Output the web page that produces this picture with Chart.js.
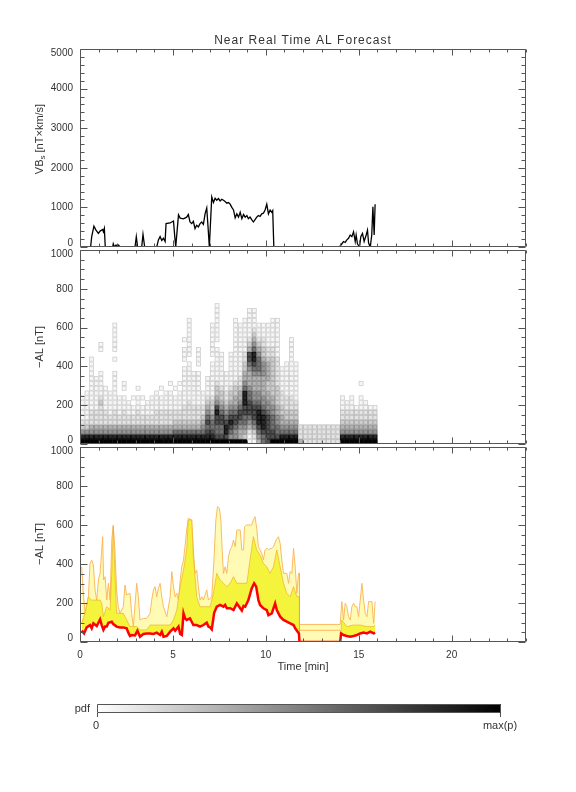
<!DOCTYPE html>
<html>
<head>
<meta charset="utf-8">
<title>Near Real Time AL Forecast</title>
<script src="https://cdn.jsdelivr.net/npm/chart.js@4.4.0/dist/chart.umd.min.js"></script>
<style>
  body { margin: 0; background: #fff; }
  #wrap { position: relative; width: 576px; height: 792px; }
  canvas { position: absolute; left: 0; top: 0; }
</style>
</head>
<body>
<div id="wrap">
  <canvas id="vbsChart" width="576" height="792"></canvas>
  <canvas id="pdfChart" width="576" height="792"></canvas>
  <canvas id="alChart" width="576" height="792"></canvas>
</div>
<script>
// ---------------- data ----------------
// top panel: VBs [nT x km/s] against time [min]
const vbsTime = [0.09,0.57,0.63,0.75,0.86,0.99,1.08,1.22,1.26,1.31,1.36,1.76,1.79,1.85,1.94,2.01,2.08,2.15,
  2.96,3.03,3.1,3.32,3.39,3.48,4.13,4.22,4.31,4.4,4.49,4.58,4.63,4.85,5.03,5.1,5.15,5.3,5.39,5.57,5.74,5.83,
  5.92,6.01,6.1,6.19,6.28,6.37,6.46,6.55,6.64,6.73,6.82,6.89,6.96,7.09,7.18,7.27,7.36,7.45,7.54,7.63,7.72,
  7.81,7.9,7.99,8.08,8.17,8.26,8.35,8.44,8.53,8.62,8.71,8.8,8.89,8.98,9.06,9.15,9.24,9.33,9.42,9.51,9.6,
  9.69,9.78,9.87,9.96,10.05,10.14,10.23,10.32,10.37,10.43,13.96,14.09,14.18,14.27,14.36,14.45,14.54,14.63,
  14.72,14.81,14.86,14.93,15.04,15.11,15.2,15.29,15.4,15.47,15.53,15.62,15.7,15.76,15.83,15.88];
const vbsValue = [0,0,262,525,426,344,402,443,385,467,0,0,82,0,49,0,49,0,
  0,262,0,0,320,0,0,180,262,164,221,139,590,607,656,262,0,812,730,713,754,820,
  631,590,648,467,549,508,590,631,574,836,984,508,0,1263,1123,1230,1181,1222,1164,1205,1181,
  1148,1107,1123,1082,1000,935,738,836,754,877,713,820,754,795,713,754,689,631,689,754,795,
  771,836,853,935,1082,836,935,877,918,0,0,82,139,115,180,221,303,262,
  385,139,303,82,0,262,344,139,303,426,98,0,303,1017,303,1082];

// middle panel: pdf of -AL, one string per time column, one digit per 25 nT bin (0 = empty, 9 = max)
const pdfStep = 0.25;   // min per column
const pdfBin = 25;      // nT per row
const pdfColumns = [
  "9853211111", "98532111111", "985422211111111111", "98542221111111",
  "9854222232111110000110", "9854222111110", "98542211111", "9854222111111110010111111",
  "9854221111", "9854222111011", "985422111", "9854221101",
  "985422211101", "9854221101", "985422111", "9854221111",
  "98542221111", "985422211101", "98542221111", "9854222111101",
  "986432211101", "9864322111101", "9864322211111111011101", "98643222211111111011111111",
  "986432221111111", "98643222111111101111", "98654322111", "98767654321111",
  "9876654332111111101111111", "97667787543321111111011111111", "9766776543321111111", "978876543221111",
  "9567876543321111111", "95567765443321111111111111", "9445677654432211111111111", "93456677888654433221111111",
  "1124567776654445677432111111", "1235677765544456788654321111", "4567888765544456665432111", "6678887655444455543322111",
  "7777776554433444432211111", "97766655443333333322111111", "97665544333322222211111111", "9865443322211111",
  "98654332221111111", "9865433222111111111111", "98654332211111111", "4222",
  "2222", "2222", "2222", "2222", "2222", "2222", "2222", "2222",
  "9854322111", "985432211", "9854322111", "98543221",
  "9854322111001", "985432211", "98543221", "98543221"
];

// bottom panel: forecast -AL [nT]
const redTime = [0.09,0.22,0.36,0.54,0.63,0.72,0.9,0.99,1.08,1.17,1.26,1.35,1.44,1.53,1.71,1.79,1.97,2.15,2.33,
  2.51,2.6,2.69,2.78,2.96,3.09,3.23,3.41,3.59,3.77,3.95,4.13,4.31,4.4,4.49,4.67,4.85,5.03,5.12,5.3,5.39,5.48,
  5.57,5.65,5.74,5.92,6.01,6.1,6.28,6.46,6.64,6.82,6.91,7.0,7.09,7.22,7.36,7.54,7.72,7.81,7.9,8.08,8.26,8.35,
  8.44,8.62,8.71,8.8,8.89,9.06,9.24,9.37,9.48,9.6,9.69,9.87,10.05,10.14,10.32,10.5,10.59,10.77,10.95,11.13,
  11.31,11.49,11.58,11.71,11.78,11.81,14.0,14.05,14.18,14.36,14.54,14.72,14.9,15.08,15.26,15.44,15.62,15.8,15.88];
const redValue = [58,44,75,87,70,96,82,99,116,87,62,79,79,99,104,92,79,75,75,
  70,48,31,36,34,58,27,41,44,44,41,48,36,53,27,31,53,70,58,79,41,36,
  147,121,113,121,104,87,87,79,87,99,79,75,65,150,181,190,181,190,173,173,164,181,
  198,173,161,185,181,215,275,301,284,215,190,173,164,138,147,198,164,130,113,104,
  96,87,70,53,44,0,0,44,36,31,27,31,36,44,48,44,53,44,48];

const innerTime = [0.09,0.27,0.45,0.63,0.81,1.08,1.17,1.26,1.44,1.62,1.71,1.79,1.88,1.97,2.33,2.51,2.69,3.05,
  3.23,3.59,3.77,4.85,5.03,5.21,5.39,5.57,5.74,5.83,6.01,6.1,6.28,6.46,7.0,7.18,7.36,7.54,7.72,7.9,8.08,8.26,
  8.44,8.98,9.15,9.33,9.51,9.69,9.87,10.05,10.23,10.41,10.59,10.77,10.95,11.13,11.31,11.49,11.67,11.81,11.81,
  14.0,14.09,14.36,14.72,15.08,15.44,15.8,15.88];
const innerValue = [96,147,232,215,215,215,198,130,181,164,352,591,352,147,147,113,79,79,
  62,62,87,87,113,164,284,369,472,626,626,438,232,181,181,250,352,318,301,284,301,335,
  301,301,421,540,472,446,403,386,352,386,472,386,301,250,232,284,232,232,0,
  0,113,79,87,87,79,79,87];

const outerTime = [0.09,0.18,0.27,0.45,0.54,0.63,0.72,0.81,0.9,0.99,1.08,1.17,1.22,1.27,1.35,1.44,1.53,1.62,
  1.71,1.79,1.88,1.97,2.06,2.15,2.33,2.42,2.51,2.69,2.78,2.87,3.05,3.14,3.23,3.41,3.59,3.77,3.86,3.95,4.04,
  4.13,4.22,4.31,4.4,4.49,4.67,4.85,4.94,5.03,5.12,5.21,5.3,5.39,5.48,5.57,5.65,5.74,5.83,6.01,6.1,6.19,6.28,
  6.37,6.46,6.55,6.64,6.82,6.91,7.0,7.09,7.22,7.31,7.4,7.5,7.58,7.65,7.72,7.81,7.9,7.99,8.08,8.17,8.26,8.35,
  8.44,8.62,8.71,8.8,8.85,8.98,9.24,9.33,9.42,9.51,9.6,9.69,9.78,9.87,9.96,10.05,10.14,10.32,10.41,10.55,
  10.68,10.77,10.86,10.95,11.13,11.22,11.31,11.4,11.49,11.58,11.67,11.76,11.81,11.81,14.0,14.09,14.18,14.27,
  14.36,14.45,14.54,14.63,14.72,14.81,14.9,14.99,15.08,15.17,15.26,15.35,15.44,15.53,15.71,15.8,15.88];
const outerValue = [386,250,147,232,403,420,395,267,215,318,352,472,540,318,335,215,301,215,
  523,600,472,267,181,147,181,292,241,250,147,79,301,232,113,121,121,147,215,267,284,
  232,275,301,232,181,130,232,361,284,232,250,215,318,386,420,489,574,634,626,472,352,369,
  284,215,232,215,267,215,224,232,438,626,694,685,626,472,352,386,352,438,472,489,523,489,
  574,574,472,472,591,600,600,626,643,583,489,472,455,421,472,480,475,480,489,523,
  540,506,421,352,352,301,361,352,480,386,250,352,352,90,90,207,113,198,
  181,130,113,181,198,181,181,130,215,301,215,147,130,207,207,96,207];

// thin orange quantile line in the gap with no forecast
const gapTime = [11.81, 14.0];
const gapValue = [60, 60];

// ---------------- styling ----------------
const axisColor = '#555';
const textColor = '#333';
const fontFamily = '"Liberation Sans", Arial, sans-serif';
const xMajor = 5, xMinor = 1;

function pts(times, values) {
  return times.map((t, i) => ({ x: t, y: values[i] }));
}

// IDL-like box: inward ticks on all four sides, y labels kept inside the box height
function drawFrame(chart, yMinor, yMajor) {
  const { ctx, chartArea: a } = chart;
  const xs = chart.scales.x, ys = chart.scales.y;
  const L = Math.round(a.left) + 0.5, R = Math.round(a.right) - 0.5;
  const T = Math.round(a.top) + 0.5, B = Math.round(a.bottom) - 0.5;
  ctx.save();
  ctx.strokeStyle = axisColor;
  ctx.lineWidth = 1;
  ctx.beginPath();
  ctx.rect(L, T, R - L, B - T);
  for (let v = xs.min; v <= xs.max + 1e-9; v += xMinor) {
    const px = Math.round(xs.getPixelForValue(v)) + 0.5;
    const len = v % xMajor === 0 ? 6 : 3;
    ctx.moveTo(px, B); ctx.lineTo(px, B - len);
    ctx.moveTo(px, T); ctx.lineTo(px, T + len);
  }
  for (let v = ys.min; v <= ys.max + 1e-9; v += yMinor) {
    const py = Math.round(ys.getPixelForValue(v)) + 0.5;
    const len = v % yMajor === 0 ? 7 : 4;
    ctx.moveTo(L, py); ctx.lineTo(L + len, py);
    ctx.moveTo(R, py); ctx.lineTo(R - len, py);
  }
  ctx.stroke();

  ctx.fillStyle = textColor;
  ctx.font = '10px ' + fontFamily;
  ctx.textAlign = 'right';
  ctx.textBaseline = 'middle';
  ys.ticks.forEach(t => {
    const py = ys.getPixelForValue(t.value);
    const yy = Math.min(Math.max(py, a.top + 4), a.bottom - 4);
    ctx.fillText(String(t.value), a.left - 7, yy);
  });
  ctx.restore();
}

// rotated y label; parts with sub:true are drawn as subscript
function drawYLabel(ctx, cx, cy, parts) {
  ctx.save();
  ctx.translate(cx, cy);
  ctx.rotate(-Math.PI / 2);
  ctx.fillStyle = textColor;
  ctx.textBaseline = 'middle';
  ctx.textAlign = 'left';
  const big = '11px ' + fontFamily, small = '8px ' + fontFamily;
  let w = 0;
  parts.forEach(p => { ctx.font = p.sub ? small : big; w += ctx.measureText(p.text).width; });
  let x = -w / 2;
  parts.forEach(p => {
    ctx.font = p.sub ? small : big;
    ctx.fillText(p.text, x, p.sub ? 3 : 0);
    x += ctx.measureText(p.text).width;
  });
  ctx.restore();
}

function yScale(min, max, step) {
  return {
    type: 'linear', min: min, max: max,
    grid: { display: false, drawTicks: false },
    border: { display: false },
    ticks: { stepSize: step, display: false },
    afterFit: s => { s.width = 80; }
  };
}

const baseOptions = {
  responsive: false,
  animation: false,
  devicePixelRatio: 1,
  events: [],
  plugins: { legend: { display: false }, tooltip: { enabled: false } }
};

// ---------------- top panel ----------------
new Chart(document.getElementById('vbsChart'), {
  type: 'line',
  data: {
    datasets: [{
      data: pts(vbsTime, vbsValue),
      borderColor: '#000', borderWidth: 1.3, pointRadius: 0, tension: 0, fill: false
    }]
  },
  options: Object.assign({}, baseOptions, {
    layout: { padding: { top: 49, bottom: 545, left: 0, right: 50 } },
    scales: {
      x: { type: 'linear', min: 0, max: 24, display: false },
      y: yScale(0, 5000, 1000)
    }
  }),
  plugins: [{
    id: 'vbsFrame',
    afterDraw(chart) {
      drawFrame(chart, 200, 1000);
      const ctx = chart.ctx, a = chart.chartArea;
      ctx.save();
      ctx.fillStyle = textColor;
      ctx.font = '12px ' + fontFamily;
      ctx.letterSpacing = '1px';
      ctx.textAlign = 'center';
      ctx.textBaseline = 'middle';
      ctx.fillText('Near Real Time AL Forecast', (a.left + a.right) / 2, 41);
      ctx.restore();
      drawYLabel(ctx, 40, 139, [{ text: 'VB' }, { text: 's', sub: true }, { text: ' [nT\u00d7km/s]' }]);
    }
  }]
});

// ---------------- middle panel (pdf) ----------------
new Chart(document.getElementById('pdfChart'), {
  type: 'line',
  data: { datasets: [] },
  options: Object.assign({}, baseOptions, {
    layout: { padding: { top: 250, bottom: 348, left: 0, right: 50 } },
    scales: {
      x: { type: 'linear', min: 0, max: 24, display: false },
      y: yScale(0, 1000, 200)
    }
  }),
  plugins: [{
    id: 'pdfCells',
    beforeDatasetsDraw(chart) {
      const ctx = chart.ctx, xs = chart.scales.x, ys = chart.scales.y;
      ctx.save();
      pdfColumns.forEach((col, c) => {
        const x0 = xs.getPixelForValue(c * pdfStep);
        const x1 = xs.getPixelForValue((c + 1) * pdfStep);
        for (let r = 0; r < col.length; r++) {
          const d = +col[r];
          if (!d) continue;
          const y0 = ys.getPixelForValue((r + 1) * pdfBin);
          const y1 = ys.getPixelForValue(r * pdfBin);
          const g = Math.round(255 * (1 - Math.pow(d / 9, 1.5)));
          const gs = Math.max(g - 45, 0);
          ctx.fillStyle = `rgb(${g},${g},${g})`;
          ctx.fillRect(x0, y0, x1 - x0, y1 - y0);
          ctx.strokeStyle = `rgb(${gs},${gs},${gs})`;
          ctx.lineWidth = 0.7;
          ctx.strokeRect(x0 + 0.35, y0 + 0.35, x1 - x0 - 0.7, y1 - y0 - 0.7);
        }
      });
      ctx.restore();
    },
    afterDraw(chart) {
      drawFrame(chart, 50, 200);
      drawYLabel(chart.ctx, 40, 347, [{ text: '\u2212AL [nT]' }]);
    }
  }]
});

// ---------------- bottom panel (forecast) ----------------
new Chart(document.getElementById('alChart'), {
  type: 'line',
  data: {
    datasets: [
      { data: pts(redTime, redValue), order: 0, borderColor: '#ff0000', borderWidth: 2.5,
        pointRadius: 0, tension: 0, fill: false },
      { data: pts(innerTime, innerValue), order: 1, borderColor: 'rgba(235,170,40,0.8)', borderWidth: 0.8,
        pointRadius: 0, tension: 0, fill: { target: 0, above: '#f4f43c', below: '#f4f43c' } },
      { data: pts(outerTime, outerValue), order: 2, borderColor: '#fbb356', borderWidth: 0.9,
        pointRadius: 0, tension: 0, fill: { target: 0, above: '#fffbb4', below: '#fffbb4' } },
      { data: pts(gapTime, gapValue), order: 1, borderColor: '#fbb356', borderWidth: 0.9,
        pointRadius: 0, tension: 0, fill: false }
    ]
  },
  options: Object.assign({}, baseOptions, {
    layout: { padding: { top: 447, bottom: 120, left: 0, right: 50 } },
    scales: {
      x: {
        type: 'linear', min: 0, max: 24,
        grid: { display: false, drawTicks: false },
        border: { display: false },
        ticks: { stepSize: 5, includeBounds: false, maxRotation: 0, color: textColor, padding: 7,
                 font: { family: fontFamily, size: 10 } },
        afterFit: s => { s.height = 30; }
      },
      y: yScale(0, 1000, 200)
    }
  }),
  plugins: [{
    id: 'alFrame',
    afterDraw(chart) {
      drawFrame(chart, 50, 200);
      const ctx = chart.ctx, a = chart.chartArea;
      drawYLabel(ctx, 40, 544, [{ text: '\u2212AL [nT]' }]);
      ctx.save();
      ctx.fillStyle = textColor;
      ctx.font = '11px ' + fontFamily;
      ctx.textAlign = 'center';
      ctx.textBaseline = 'middle';
      ctx.fillText('Time [min]', (a.left + a.right) / 2, 667);
      // colour bar for the pdf panel
      const cbL = 97, cbR = 501, cbT = 704, cbB = 713;
      const grad = ctx.createLinearGradient(cbL, 0, cbR, 0);
      grad.addColorStop(0, '#ffffff');
      grad.addColorStop(1, '#000000');
      ctx.fillStyle = grad;
      ctx.fillRect(cbL, cbT, cbR - cbL, cbB - cbT);
      ctx.strokeStyle = axisColor;
      ctx.lineWidth = 1;
      ctx.beginPath();
      ctx.rect(cbL + 0.5, cbT + 0.5, cbR - cbL - 1, cbB - cbT - 1);
      ctx.moveTo(cbL + 0.5, cbB); ctx.lineTo(cbL + 0.5, cbB + 4);
      ctx.moveTo(cbR - 0.5, cbB); ctx.lineTo(cbR - 0.5, cbB + 4);
      ctx.stroke();
      ctx.fillStyle = textColor;
      ctx.textAlign = 'right';
      ctx.fillText('pdf', 90, 709);
      ctx.textAlign = 'center';
      ctx.fillText('0', 96, 726);
      ctx.fillText('max(p)', 500, 726);
      ctx.restore();
    }
  }]
});
</script>
</body>
</html>
